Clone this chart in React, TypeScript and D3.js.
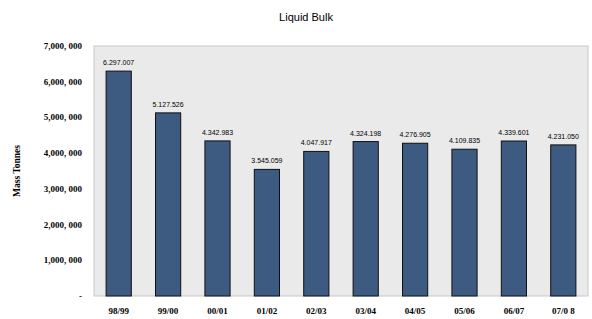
import React from 'react';
import * as d3 from 'd3';

const years = ['98/99', '99/00', '00/01', '01/02', '02/03', '03/04', '04/05', '05/06', '06/07', '07/0 8'];
const tonnes = [6297007, 5127526, 4342983, 3545059, 4047917, 4324198, 4276905, 4109835, 4339601, 4231050];
const yTicks = [0, 1000000, 2000000, 3000000, 4000000, 5000000, 6000000, 7000000];

const W = 592;
const H = 319;
const margin = { top: 46, right: 4, bottom: 23, left: 94 };

function yLabel(v: number) {
  if (v === 0) return '-';
  const s = d3.format(',')(v);
  // the source puts a space after the last comma
  const i = s.lastIndexOf(',');
  return s.slice(0, i + 1) + ' ' + s.slice(i + 1);
}

function valueLabel(v: number) {
  return d3.format(',')(v).replace(/,/g, '.');
}

export default function App() {
  const innerW = W - margin.left - margin.right;
  const innerH = H - margin.top - margin.bottom;

  const x = d3.scaleBand<string>().domain(years).range([0, innerW]).paddingInner(0.49).paddingOuter(0.245);
  const y = d3.scaleLinear().domain([0, 7000000]).range([innerH, 0]);

  return (
    <svg width={W} height={H} style={{ position: 'absolute', left: 0, top: 0 }}>
      <rect width={W} height={H} fill="#ffffff" />
      <text x={306} y={21} textAnchor="middle" fontFamily="Liberation Sans, Arial, sans-serif" fontSize={11} fill="#000">
        Liquid Bulk
      </text>
      <text
        transform={`translate(20,${margin.top + innerH / 2}) rotate(-90)`}
        textAnchor="middle"
        fontFamily="Liberation Serif, serif"
        fontWeight="bold"
        fontSize={9.5}
        fill="#000"
      >
        Mass Tonnes
      </text>
      <g transform={`translate(${margin.left},${margin.top})`}>
        <rect x={0} y={0} width={innerW} height={innerH} fill="#eaeaea" stroke="#c8c8c8" strokeWidth={1} />
        {yTicks.map((t) => (
          <text
            key={t}
            x={-12}
            y={y(t) + 3}
            textAnchor="end"
            fontFamily="Liberation Serif, serif"
            fontWeight="bold"
            fontSize={9}
            fill="#000"
          >
            {yLabel(t)}
          </text>
        ))}
        {years.map((yr, i) => (
          <g key={yr}>
            <rect
              x={x(yr)!}
              y={y(tonnes[i])}
              width={x.bandwidth()}
              height={innerH - y(tonnes[i])}
              fill="#3d5a80"
              stroke="#111"
              strokeWidth={1}
            />
            <text
              x={x(yr)! + x.bandwidth() / 2}
              y={y(tonnes[i]) - 6}
              textAnchor="middle"
              fontFamily="Liberation Sans, Arial, sans-serif"
              fontSize={7}
              fill="#000"
            >
              {valueLabel(tonnes[i])}
            </text>
            <text
              x={x(yr)! + x.bandwidth() / 2}
              y={innerH + 18}
              textAnchor="middle"
              fontFamily="Liberation Serif, serif"
              fontWeight="bold"
              fontSize={9}
              fill="#000"
            >
              {yr}
            </text>
          </g>
        ))}
      </g>
    </svg>
  );
}
